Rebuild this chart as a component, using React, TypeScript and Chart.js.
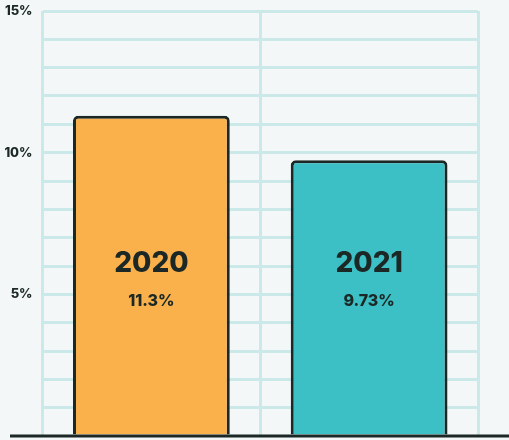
import React, { useEffect, useRef } from "react";
import { Chart, registerables } from "chart.js";

Chart.register(...registerables);

const categories = ["2020", "2021"];
const values = [11.3, 9.73];
const valueLabels = ["11.3%", "9.73%"];
const barColors = ["#FBB14B", "#3CC0C5"];
const yTickValues = [5, 10, 15];

const INK = "#1b2825";
const GRID = "#cce9ea";
const FONT = "Inter, 'Open Sans', sans-serif";

const barLabelPlugin = {
  id: "barLabels",
  afterDatasetsDraw(chart: any) {
    const ctx = chart.ctx;
    const meta = chart.getDatasetMeta(0);
    const yScale = chart.scales.y;
    ctx.save();
    ctx.fillStyle = INK;
    ctx.textAlign = "center";
    ctx.textBaseline = "middle";
    meta.data.forEach((bar: any, i: number) => {
      ctx.font = `800 28px ${FONT}`;
      ctx.fillText(categories[i], bar.x, yScale.getPixelForValue(6.1));
      ctx.font = `800 16px ${FONT}`;
      ctx.fillText(valueLabels[i], bar.x, yScale.getPixelForValue(4.75));
    });
    const y0 = yScale.getPixelForValue(0);
    ctx.strokeStyle = INK;
    ctx.lineWidth = 3;
    ctx.beginPath();
    ctx.moveTo(10, y0);
    ctx.lineTo(chart.width, y0);
    ctx.stroke();
    ctx.restore();
  },
};

const bgPlugin = {
  id: "bg",
  beforeDraw(chart: any) {
    const ctx = chart.ctx;
    ctx.save();
    ctx.fillStyle = "#f3f7f8";
    ctx.fillRect(0, 0, chart.width, chart.height);
    ctx.restore();
  },
};

export default function App() {
  const ref = useRef<HTMLCanvasElement>(null);
  useEffect(() => {
    const chart = new Chart(ref.current!, {
      type: "bar",
      data: {
        labels: categories,
        datasets: [
          {
            data: values,
            backgroundColor: barColors,
            borderColor: INK,
            borderWidth: 3,
            borderRadius: 5,
            borderSkipped: "bottom",
            barPercentage: 0.72,
            categoryPercentage: 1,
          },
        ],
      },
      options: {
        responsive: false,
        animation: false,
        layout: { padding: { left: 0, right: 31, top: 11, bottom: 4 } },
        plugins: { legend: { display: false }, tooltip: { enabled: false } },
        scales: {
          x: {
            grid: { color: GRID, lineWidth: 3, drawTicks: false, offset: true },
            border: { display: false },
            ticks: { display: false },
            afterFit(scale: any) {
              scale.height = 0;
              scale.paddingLeft = 0;
              scale.paddingRight = 0;
            },
          },
          y: {
            min: 0,
            max: 15,
            grid: {
              color: (c: any) => (c.tick && c.tick.value === 0 ? "rgba(0,0,0,0)" : GRID),
              lineWidth: 3,
              drawTicks: false,
            },
            border: { display: false },
            ticks: {
              stepSize: 1,
              padding: 10,
              color: INK,
              font: { family: FONT, size: 13, weight: "800" as any },
              callback: (v: any) => (yTickValues.includes(Number(v)) ? `${v}%` : ""),
            },
            afterFit(scale: any) {
              scale.width = 42.5;
              scale.paddingTop = 0;
              scale.paddingBottom = 0;
            },
          },
        },
      },
      plugins: [bgPlugin, barLabelPlugin],
    });
    return () => chart.destroy();
  }, []);
  return (
    <div style={{ position: "fixed", left: 0, top: 0, width: 509, height: 440, background: "#f3f7f8" }}>
      <canvas ref={ref} width={509} height={440} />
    </div>
  );
}
